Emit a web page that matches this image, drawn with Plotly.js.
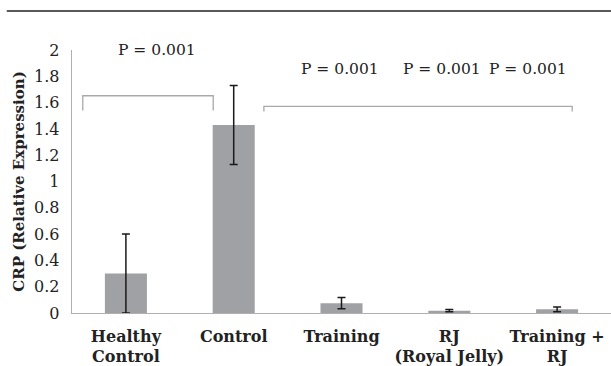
<!DOCTYPE html>
<html>
<head>
<meta charset="utf-8">
<script src="https://cdn.plot.ly/plotly-3.0.1.min.js"></script>
<style>html,body{margin:0;padding:0;background:#fff;}#chart{width:611px;height:366px;}</style>
</head>
<body>
<div id="chart"></div>
<script>
const categories = ["Healthy<br>Control", "Control", "Training", "RJ<br>(Royal Jelly)", "Training +<br>RJ"];
const values = [0.30, 1.43, 0.075, 0.018, 0.028];
const errors = [0.30, 0.30, 0.042, 0.008, 0.018];
const pLabels = ["P = 0.001", "P = 0.001", "P = 0.001", "P = 0.001"];
const yTicks = [0, 0.2, 0.4, 0.6, 0.8, 1, 1.2, 1.4, 1.6, 1.8, 2];

const serif = "DejaVu Serif";
const xIdx = categories.map((c, i) => i);

const trace = {
  type: "bar",
  x: xIdx,
  y: values,
  marker: {color: "#a0a1a4"},
  error_y: {type: "data", array: errors, visible: true, color: "#1a1a1a", thickness: 1.5, width: 4},
  hoverinfo: "none"
};

const bracketColor = "#a9a9a9";
const shapes = [
  {type: "line", xref: "paper", yref: "paper", x0: -0.121, x1: 1.0, y0: 1.148, y1: 1.148, line: {color: "#222", width: 1.5}},
  {type: "path", xref: "x", yref: "y", path: "M -0.40 1.54 L -0.40 1.652 L 0.81 1.652 L 0.81 1.54", line: {color: bracketColor, width: 1.3}},
  {type: "path", xref: "x", yref: "y", path: "M 1.28 1.532 L 1.28 1.572 L 4.14 1.572 L 4.14 1.532", line: {color: bracketColor, width: 1.3}}
];

const pPos = [[0.29, 2.0], [1.99, 1.855], [2.93, 1.855], [3.73, 1.855]];
const annotations = pLabels.map((t, i) => ({
  text: t, x: pPos[i][0], y: pPos[i][1], xref: "x", yref: "y", showarrow: false,
  font: {family: serif, size: 15.5, color: "#222"}
}));

const layout = {
  width: 611, height: 366,
  margin: {l: 72, r: 0, t: 50, b: 53},
  paper_bgcolor: "#fff", plot_bgcolor: "#fff",
  showlegend: false,
  bargap: 0.61,
  xaxis: {
    range: [-0.5, 4.5], tickvals: xIdx, ticktext: categories.map(c => "<b>" + c + "</b>"),
    showline: true, linecolor: "#b0b0b0", linewidth: 1.3, showgrid: false, zeroline: false,
    ticks: "outside", ticklen: 8, tickcolor: "rgba(0,0,0,0)",
    tickfont: {family: serif, size: 16, color: "#222"}, fixedrange: true
  },
  yaxis: {
    range: [0, 2], tickvals: yTicks, ticktext: yTicks.map(String),
    showline: true, linecolor: "#b0b0b0", linewidth: 1.3, showgrid: false, zeroline: false,
    ticks: "outside", ticklen: 8, tickcolor: "rgba(0,0,0,0)",
    tickfont: {family: serif, size: 16, color: "#222"},
    title: {text: "<b>CRP (Relative Expression)</b>", font: {family: serif, size: 15, color: "#222"}, standoff: 5}
  },
  shapes: shapes,
  annotations: annotations
};

Plotly.newPlot("chart", [trace], layout, {staticPlot: true});
</script>
</body>
</html>
